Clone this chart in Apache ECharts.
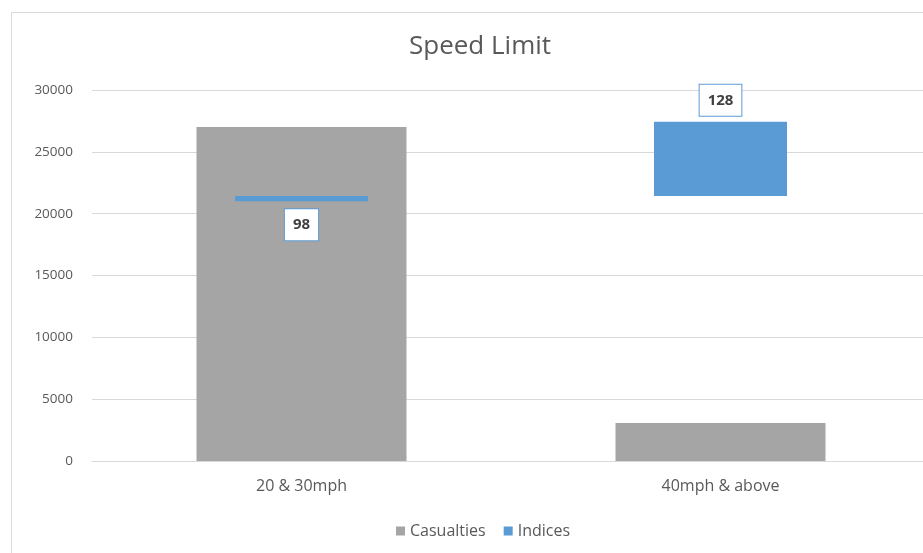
<!DOCTYPE html>
<html>
<head>
<meta charset="utf-8">
<script src="https://cdn.jsdelivr.net/npm/echarts@6/dist/echarts.min.js"></script>
<style>html,body{margin:0;padding:0;background:#fff;overflow:hidden;width:923px;height:553px;}#c{width:931px;height:553px;}</style>
</head>
<body>
<div id="c"></div>
<script>
const categories = ["20 & 30mph", "40mph & above"];
const casualties = [27000, 3070];
const indices = [98, 128];
const indexBase = 100;
const yTicks = { min: 0, max: 30000, interval: 5000 };

const FONT = "'Open Sans', 'Noto Sans', sans-serif";
const chart = echarts.init(document.getElementById('c'), null, { renderer: 'canvas' });
const baseVals = indices.map(v => Math.min(v, indexBase));
const deltaVals = indices.map(v => ({
  value: Math.abs(v - indexBase),
  label: v < indexBase ? { position: 'bottom', distance: 8 } : { position: 'top', distance: 6 }
}));
chart.setOption({
  animation: false,
  backgroundColor: '#fff',
  textStyle: { fontFamily: FONT },
  graphic: [{
    type: 'rect', left: 9, top: 10,
    shape: { width: 1000, height: 1000 },
    style: { fill: 'none', stroke: '#d9d9d9', lineWidth: 1 }
  }],
  title: {
    text: 'Speed Limit', left: 404, top: 29,
    textStyle: { fontFamily: FONT, fontSize: 26, fontWeight: 'normal', color: '#595959' }
  },
  legend: {
    data: ['Casualties', 'Indices'], top: 518, left: 391,
    icon: 'rect', itemWidth: 9, itemHeight: 9, itemGap: 18,
    textStyle: { fontFamily: FONT, fontSize: 16, color: '#595959' }
  },
  grid: { left: 92, right: 1, top: 90, bottom: 92 },
  xAxis: [{
    type: 'category', data: categories,
    axisLine: { lineStyle: { color: '#d9d9d9' } },
    axisTick: { show: false },
    axisLabel: { fontFamily: FONT, fontSize: 16, color: '#595959', margin: 17 }
  }, {
    type: 'category', data: categories, show: false
  }],
  yAxis: [{
    type: 'value', min: yTicks.min, max: yTicks.max, interval: yTicks.interval,
    axisLine: { show: false }, axisTick: { show: false },
    splitLine: { lineStyle: { color: '#d9d9d9' } },
    axisLabel: { fontFamily: FONT, fontSize: 13.5, color: '#595959', margin: 19, formatter: v => String(v) }
  }, {
    type: 'value', min: 0, max: 140, show: false, splitLine: { show: false }
  }],
  series: [{
    name: 'Casualties', type: 'bar', data: casualties,
    xAxisIndex: 0, yAxisIndex: 0, barWidth: 210,
    itemStyle: { color: '#A5A5A5' }
  }, {
    name: 'base', type: 'bar', stack: 'idx', data: baseVals,
    xAxisIndex: 1, yAxisIndex: 1, barWidth: 133,
    itemStyle: { color: 'transparent' }, silent: true
  }, {
    name: 'Indices', type: 'bar', stack: 'idx', data: deltaVals,
    xAxisIndex: 1, yAxisIndex: 1, barWidth: 133,
    itemStyle: { color: '#5B9BD5' },
    label: {
      show: true,
      formatter: p => String(indices[p.dataIndex]),
      fontFamily: FONT, fontSize: 15, fontWeight: 'bold', color: '#404040',
      lineHeight: 17,
      backgroundColor: '#fff', borderColor: '#5B9BD5', borderWidth: 1,
      padding: [7, 8]
    }
  }]
});
</script>
</body>
</html>
